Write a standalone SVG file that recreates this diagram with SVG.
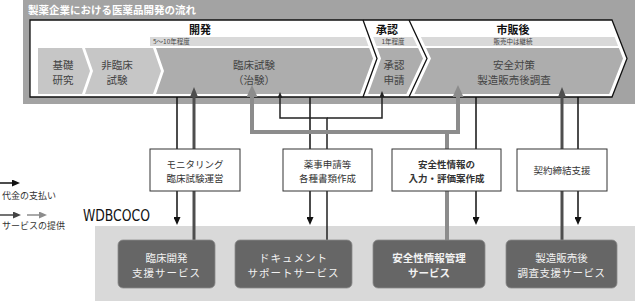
<svg xmlns="http://www.w3.org/2000/svg" width="635" height="301" viewBox="0 0 635 301">
<style>
text{font-family:"Noto Sans CJK JP","Noto Sans",sans-serif;}
.hd{font-size:11px;font-weight:bold;fill:#111;text-anchor:middle;}
.bar{font-size:6.5px;fill:#444;}
.ch{font-size:10.5px;fill:#444;text-anchor:middle;}
.bx{fill:#fff;stroke:#333;stroke-width:1;}
.bt{font-size:9.5px;fill:#333;text-anchor:middle;}
.db{fill:#666;stroke:#8a8a8a;stroke-width:0.8;}
.dt{font-size:10.5px;fill:#f2f2f2;text-anchor:middle;}
.pay{fill:none;stroke:#111;stroke-width:1.5;marker-end:url(#mPay);}
.sd{fill:none;stroke:#4e4e4e;stroke-width:3;marker-end:url(#mDark);}
.sg{fill:none;stroke:#8c8c8c;stroke-width:4;marker-end:url(#mGray);}
.st{fill:none;stroke:#222;stroke-width:1.5;marker-end:url(#mThin);}
.edge{fill:none;stroke:#111;stroke-width:1.3;}
</style>
<defs>
<marker id="mPay" viewBox="0 0 8 7" markerWidth="8" markerHeight="7" refX="1" refY="3.5" orient="auto" markerUnits="userSpaceOnUse"><path d="M0,0 L8,3.5 L0,7 z" fill="#111"/></marker>
<marker id="mDark" viewBox="0 0 10 8" markerWidth="10" markerHeight="8" refX="1" refY="4" orient="auto" markerUnits="userSpaceOnUse"><path d="M0,0 L10,4 L0,8 z" fill="#4e4e4e"/></marker>
<marker id="mGray" viewBox="0 0 12 11" markerWidth="12" markerHeight="11" refX="1" refY="5.5" orient="auto" markerUnits="userSpaceOnUse"><path d="M0,0 L12,5.5 L0,11 z" fill="#8c8c8c"/></marker>
<marker id="mThin" viewBox="0 0 6 5" markerWidth="6" markerHeight="5" refX="1" refY="2.5" orient="auto" markerUnits="userSpaceOnUse"><path d="M0,0 L6,2.5 L0,5 z" fill="#222"/></marker>
<marker id="mLegD" viewBox="0 0 8 7" markerWidth="8" markerHeight="7" refX="1" refY="3.5" orient="auto" markerUnits="userSpaceOnUse"><path d="M0,0 L8,3.5 L0,7 z" fill="#444"/></marker>
<marker id="mLegG" viewBox="0 0 8 7" markerWidth="8" markerHeight="7" refX="1" refY="3.5" orient="auto" markerUnits="userSpaceOnUse"><path d="M0,0 L8,3.5 L0,7 z" fill="#8c8c8c"/></marker>
</defs>

<g id="flow">
<rect x="23" y="0" width="612" height="104" fill="#a3a3a3"/>
<text x="28" y="14" font-size="10.5" font-weight="bold" fill="#fff">製薬企業における医薬品開発の流れ</text>
<path d="M30,20 L612,20 L627,58.5 L612,97 L30,97 Z" fill="#fff" stroke="#111" stroke-width="1.3"/>
<polyline class="edge" points="363,20 377,58.5 363,97"/>
<polyline class="edge" points="409,20 427,58.5 409,97"/>
<polygon points="150,37 365.2,37 368.5,46 150,46" fill="#d9d9d9"/>
<polygon points="373.2,37 412.9,37 417.2,46 376.5,46" fill="#d9d9d9"/>
<polygon points="420.9,37 614.6,37 618.1,46 425.2,46" fill="#d9d9d9"/>
<text class="bar" x="153" y="44">5～10年程度</text>
<text class="bar" x="393" y="44" text-anchor="middle">1年程度</text>
<text class="bar" x="513" y="44" text-anchor="middle">販売中は継続</text>
<text class="hd" x="200" y="34">開発</text>
<text class="hd" x="387" y="34">承認</text>
<text class="hd" x="513" y="34">市販後</text>
<polygon points="38,48 82,48 90,71 82,94 38,94" fill="#c6c6c6"/>
<polygon points="85,48 153,48 161,71 153,94 85,94 93,71" fill="#c6c6c6"/>
<polygon points="156,48 369.2,48 373,58.5 360.1,94 156,94 164,71" fill="#adadad"/>
<polygon points="377.2,48 418.1,48 423,58.5 406.4,94 368.1,94 381,58.5" fill="#adadad"/>
<polygon points="426.1,48 618.9,48 623,58.5 609.2,94 414.4,94 431,58.5" fill="#adadad"/>
<text class="ch" x="63" y="69">基礎</text><text class="ch" x="63" y="84">研究</text>
<text class="ch" x="117" y="69">非臨床</text><text class="ch" x="117" y="84">試験</text>
<text class="ch" x="254" y="69">臨床試験</text><text class="ch" x="254" y="84">（治験）</text>
<text class="ch" x="394" y="69">承認</text><text class="ch" x="394" y="84">申請</text>
<text class="ch" x="514" y="69">安全対策</text><text class="ch" x="514" y="84">製造販売後調査</text>
</g>

<g id="legend">
<path d="M0,183 H13" fill="none" stroke="#111" stroke-width="1.5" marker-end="url(#mPay)"/>
<text x="2" y="199" font-size="9" fill="#333">代金の支払い</text>
<path d="M0,215 H14" fill="none" stroke="#444" stroke-width="1.5" marker-end="url(#mLegD)"/>
<path d="M27,215 H40" fill="none" stroke="#8c8c8c" stroke-width="1.5" marker-end="url(#mLegG)"/>
<text x="2" y="229" font-size="9" fill="#333">サービスの提供</text>
</g>

<g id="wdbcoco">
<rect x="95" y="226" width="540" height="75" fill="#d9d9d9"/>
<text x="83" y="221" font-size="15" fill="#111" textLength="67" lengthAdjust="spacingAndGlyphs" style="font-family:'DejaVu Sans Condensed','Liberation Sans',sans-serif">WDBCOCO</text>
</g>

<g id="connectors">
<path class="pay" d="M177,97 V218"/>
<path class="pay" d="M310,97 V218"/>
<path class="pay" d="M476,97 V218"/>
<path class="pay" d="M578,97 V218"/>
<path class="sd" d="M194,240 V96"/>
<path class="sd" d="M562,240 V96"/>
<path class="st" d="M327,240 V118 H280 V97"/>
<path class="st" d="M327,118 H382 V96"/>
<path class="sg" d="M447,240 V132 H252 V96"/>
<path class="sg" d="M447,132 H458 V96"/>
</g>

<g id="monitoring">
<rect class="bx" x="150" y="149" width="90" height="42"/>
<text class="bt" x="195" y="167.5">モニタリング</text>
<text class="bt" x="195" y="181.5">臨床試験運営</text>
</g>
<g id="yakuji">
<rect class="bx" x="283" y="149" width="89" height="42"/>
<text class="bt" x="327.5" y="167.5">薬事申請等</text>
<text class="bt" x="327.5" y="181.5">各種書類作成</text>
</g>
<g id="anzen-input">
<rect class="bx" x="392" y="149" width="109" height="42"/>
<text class="bt" x="446.5" y="167.5" font-weight="bold" fill="#111">安全性情報の</text>
<text class="bt" x="446.5" y="181.5" font-weight="bold" fill="#111">入力・評価案作成</text>
</g>
<g id="keiyaku">
<rect class="bx" x="517" y="149" width="90" height="42"/>
<text class="bt" x="562" y="174">契約締結支援</text>
</g>

<g id="rinsho-service">
<rect class="db" x="118" y="240" width="97" height="48" rx="5"/>
<text class="dt" x="166.5" y="262">臨床開発</text>
<text class="dt" x="166.5" y="277" letter-spacing="1">支援サービス</text>
</g>
<g id="document-service">
<rect class="db" x="235" y="240" width="117" height="48" rx="5"/>
<text class="dt" x="293.5" y="262" letter-spacing="1">ドキュメント</text>
<text class="dt" x="293.5" y="277" letter-spacing="1">サポートサービス</text>
</g>
<g id="anzen-service">
<rect class="db" x="373" y="240" width="112" height="48" rx="5"/>
<text class="dt" x="429" y="262" font-weight="bold">安全性情報管理</text>
<text class="dt" x="429" y="277" font-weight="bold">サービス</text>
</g>
<g id="seizo-service">
<rect class="db" x="506" y="240" width="111" height="48" rx="5"/>
<text class="dt" x="561.5" y="262">製造販売後</text>
<text class="dt" x="561.5" y="277" letter-spacing="0.5">調査支援サービス</text>
</g>
</svg>
